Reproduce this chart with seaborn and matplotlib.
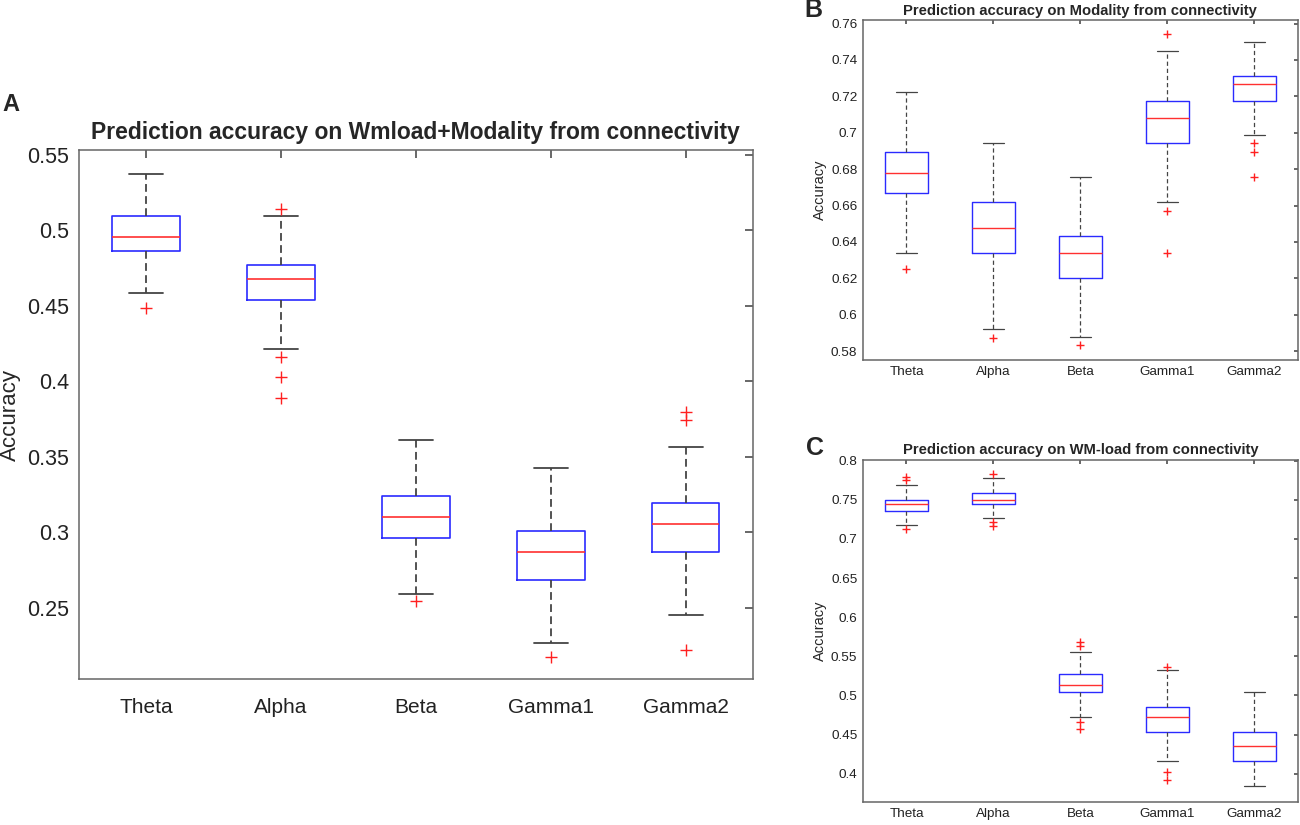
import matplotlib
matplotlib.use("Agg")
import matplotlib.pyplot as plt
import seaborn as sns

bands = ["Theta", "Alpha", "Beta", "Gamma1", "Gamma2"]

# Panel A: Wmload+Modality
a_whislo = [0.4584, 0.4215, 0.2593, 0.2270, 0.2454]
a_q1 = [0.4861, 0.4535, 0.2965, 0.2684, 0.2872]
a_med = [0.4956, 0.4675, 0.3104, 0.2872, 0.3058]
a_q3 = [0.5093, 0.4768, 0.3241, 0.3011, 0.3195]
a_whishi = [0.5369, 0.5093, 0.3613, 0.3427, 0.3566]
a_fliers = [[0.4485], [0.5139, 0.4164, 0.4029, 0.3889], [0.2544], [0.2175],
            [0.3799, 0.3743, 0.2223]]

# Panel B: Modality
b_whislo = [0.6341, 0.5923, 0.5876, 0.6617, 0.6987]
b_q1 = [0.6667, 0.6341, 0.6202, 0.6943, 0.7176]
b_med = [0.6780, 0.6478, 0.6341, 0.7082, 0.7269]
b_q3 = [0.6896, 0.6617, 0.6432, 0.7174, 0.7311]
b_whishi = [0.7222, 0.6941, 0.6758, 0.7452, 0.7498]
b_fliers = [[0.6249], [0.5874], [0.5832], [0.7544, 0.6571, 0.6339],
            [0.6941, 0.6896, 0.6758]]

# Panel C: WM-load
c_whislo = [0.7174, 0.7268, 0.4719, 0.4162, 0.3838]
c_q1 = [0.7362, 0.7451, 0.5043, 0.4532, 0.4166]
c_med = [0.7451, 0.7502, 0.5136, 0.4719, 0.4349]
c_q3 = [0.7498, 0.7591, 0.5272, 0.4855, 0.4532]
c_whishi = [0.7685, 0.7779, 0.5553, 0.5319, 0.5043]
c_fliers = [[0.7796, 0.7753, 0.7123], [0.7830, 0.7213, 0.7166],
            [0.5689, 0.5638, 0.4664, 0.4570], [0.5362, 0.4017, 0.3923], []]


def make_stats(lo, q1, med, q3, hi, fl):
    return [dict(label=b, whislo=lo[i], q1=q1[i], med=med[i], q3=q3[i],
                 whishi=hi[i], fliers=fl[i]) for i, b in enumerate(bands)]


def draw_panel(ax, stats, lw, wlw, ms, dash, tick_fs, tick_len):
    ax.bxp(stats, widths=0.5, capwidths=0.25, showfliers=True,
           boxprops=dict(color="#2a2aff", linewidth=lw),
           medianprops=dict(color="#ff3030", linewidth=lw),
           whiskerprops=dict(color="#444444", linewidth=wlw, linestyle=(0, dash)),
           capprops=dict(color="#444444", linewidth=wlw),
           flierprops=dict(marker="+", markeredgecolor="#ff2020", markersize=ms,
                           markeredgewidth=1.0, linestyle="none"))
    ax.set_xlim(0.5, 5.5)
    ax.tick_params(direction="in", top=True, right=True, length=tick_len,
                   color="#555555", labelsize=tick_fs, labelcolor="#222222")
    for s in ax.spines.values():
        s.set_color("#666666")
        s.set_linewidth(1.1)
    ax.grid(False)


sns.set_theme(style="white")
plt.rcParams["font.family"] = ["Liberation Sans", "DejaVu Sans"]

fig = plt.figure(figsize=(13, 8.25), dpi=100)
axA = fig.add_axes([0.0604, 0.177, 0.519, 0.641])
axB = fig.add_axes([0.6638, 0.5636, 0.3346, 0.412])
axC = fig.add_axes([0.6638, 0.0279, 0.3346, 0.4145])

draw_panel(axA, make_stats(a_whislo, a_q1, a_med, a_q3, a_whishi, a_fliers),
           1.2, 1.3, 9, (4.3, 2.4), 15.5, 6)
axA.set_ylim(0.203, 0.553)
axA.set_yticks([0.25, 0.3, 0.35, 0.4, 0.45, 0.5, 0.55])
axA.set_yticklabels(["0.25", "0.3", "0.35", "0.4", "0.45", "0.5", "0.55"])
axA.tick_params(axis="y", pad=7)
axA.tick_params(axis="x", pad=14, labelsize=15)
axA.set_ylabel("Accuracy", fontsize=16, labelpad=4)
axA.set_title("Prediction accuracy on Wmload+Modality from connectivity",
              fontsize=16.5, fontweight="bold", pad=8)

draw_panel(axB, make_stats(b_whislo, b_q1, b_med, b_q3, b_whishi, b_fliers),
           1.0, 0.9, 6, (3.4, 2.3), 9.7, 3)
axB.set_ylim(0.5751, 0.7619)
axB.set_yticks([0.58, 0.6, 0.62, 0.64, 0.66, 0.68, 0.7, 0.72, 0.74, 0.76])
axB.set_yticklabels(["0.58", "0.6", "0.62", "0.64", "0.66", "0.68", "0.7",
                     "0.72", "0.74", "0.76"])
axB.tick_params(pad=4)
axB.set_ylabel("Accuracy", fontsize=10.5, labelpad=3)
axB.set_title("Prediction accuracy on Modality from connectivity",
              fontsize=10.6, fontweight="bold", pad=4)

draw_panel(axC, make_stats(c_whislo, c_q1, c_med, c_q3, c_whishi, c_fliers),
           1.0, 0.9, 6, (3.4, 2.3), 9.7, 3)
axC.set_ylim(0.3638, 0.8009)
axC.set_yticks([0.4, 0.45, 0.5, 0.55, 0.6, 0.65, 0.7, 0.75, 0.8])
axC.set_yticklabels(["0.4", "0.45", "0.5", "0.55", "0.6", "0.65", "0.7", "0.75", "0.8"])
axC.tick_params(pad=4)
axC.set_ylabel("Accuracy", fontsize=10.5, labelpad=3)
axC.set_title("Prediction accuracy on WM-load from connectivity",
              fontsize=10.6, fontweight="bold", pad=4)

fig.text(0.002, 0.873, "A", fontsize=17, fontweight="bold", va="center")
fig.text(0.619, 0.988, "B", fontsize=18, fontweight="bold", va="center")
fig.text(0.620, 0.457, "C", fontsize=18, fontweight="bold", va="center")

fig.savefig("out.png", dpi=100)
